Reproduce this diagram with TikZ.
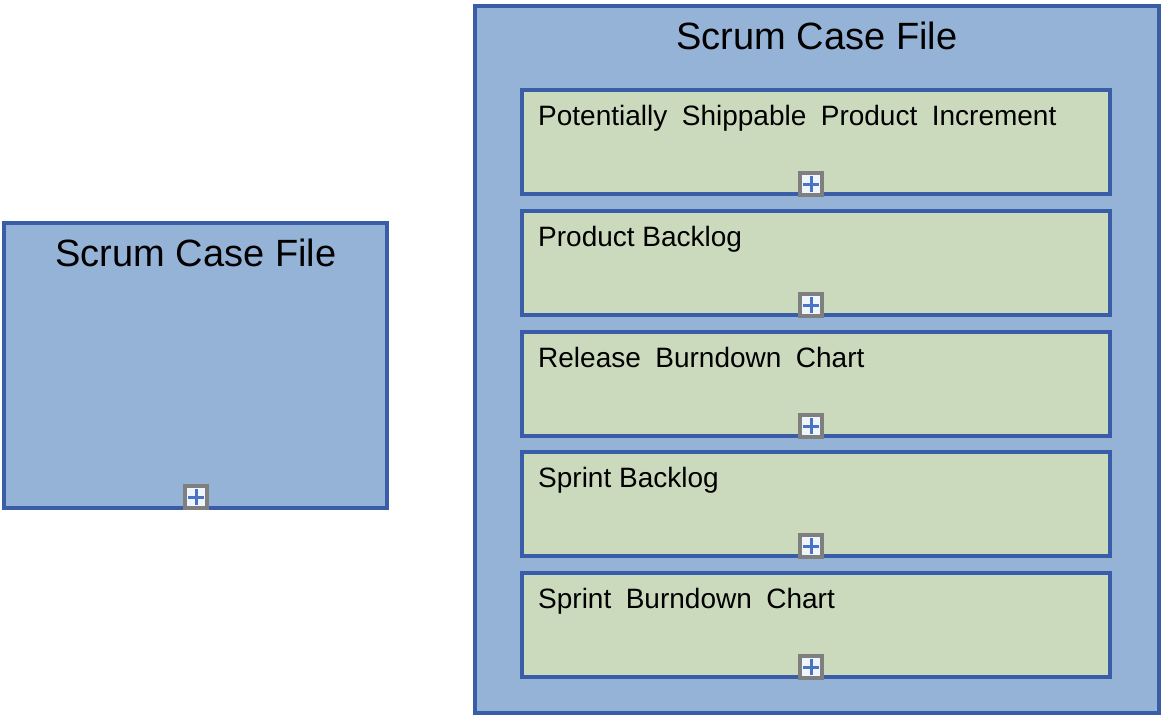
\documentclass[tikz,border=0pt]{standalone}
\usepackage{fontspec}
\setmainfont{Liberation Sans}
\usepackage{xcolor}
\usepackage{tikz}
\usetikzlibrary{positioning}
\definecolor{caseblue}{HTML}{95B3D7}
\definecolor{caseedge}{HTML}{3A5DA8}
\definecolor{itemgreen}{HTML}{CBDABD}
\definecolor{plusgray}{HTML}{7F7F7F}
\definecolor{plusfill}{HTML}{EEF5FC}
\definecolor{plusblue}{HTML}{4A73C4}
\newcommand\widewords{\spaceskip=14.5pt plus 1pt minus 1pt\relax}
\tikzset{
    casebox/.style = {rectangle, draw=caseedge, fill=caseblue, line width=4pt, inner sep=0pt},
    itembox/.style = {rectangle, draw=caseedge, fill=itemgreen, line width=4pt, inner sep=0pt, minimum width=588pt, minimum height=104pt},
    casetitle/.style = {anchor=base, inner sep=0pt, font=\fontsize{38}{44}\selectfont},
    itemtext/.style = {anchor=base west, inner sep=0pt, font=\fontsize{28}{32}\selectfont},
    widetext/.style = {itemtext, font=\fontsize{28}{32}\selectfont\widewords},
    plusbox/.style = {rectangle, draw=plusgray, fill=plusfill, line width=4pt, inner sep=0pt, minimum size=22pt,
        path picture={
            \draw[plusblue, line width=3pt] ([xshift=-8pt]path picture bounding box.center) -- ([xshift=8pt]path picture bounding box.center);
            \draw[plusblue, line width=3pt] ([yshift=-8pt]path picture bounding box.center) -- ([yshift=8pt]path picture bounding box.center);
        }},
}
\begin{document}
\begin{tikzpicture}[x=1pt, y=-1pt]
\useasboundingbox (0,0) rectangle (1163,718);
% collapsed case file
\node[casebox, minimum width=383pt, minimum height=285pt] at (195.5,365.5) (small) {};
\node[casetitle] at (196,266) (smalltitle) {Scrum Case File};
\node[plusbox] at (196,497) (smallplus) {};
% expanded case file
\node[casebox, minimum width=684pt, minimum height=707pt] at (817,359.5) (big) {};
\node[casetitle] at (817,49) (bigtitle) {Scrum Case File};
\node[itembox] at (816,142) (psi) {};
\node[itembox] at (816,263) (pb) {};
\node[itembox] at (816,384) (rbc) {};
\node[itembox] at (816,504) (sb) {};
\node[itembox] at (816,625) (sbc) {};
\node[widetext] at (538,125) (psitext) {Potentially Shippable Product Increment};
\node[itemtext] at (538,246) (pbtext) {Product Backlog};
\node[widetext] at (538,367) (rbctext) {Release Burndown Chart};
\node[itemtext] at (538,487) (sbtext) {Sprint Backlog};
\node[widetext] at (538,608) (sbctext) {Sprint Burndown Chart};
\node[plusbox] at (811,184) (psiplus) {};
\node[plusbox] at (811,305) (pbplus) {};
\node[plusbox] at (811,426) (rbcplus) {};
\node[plusbox] at (811,546) (sbplus) {};
\node[plusbox] at (811,667) (sbcplus) {};
\end{tikzpicture}
\end{document}
